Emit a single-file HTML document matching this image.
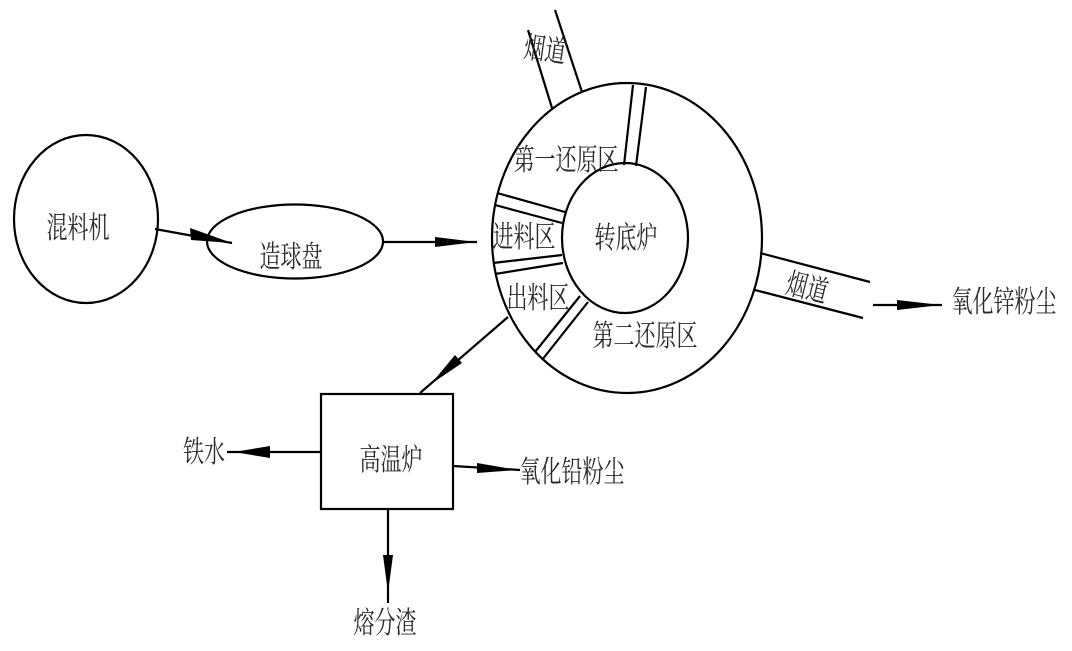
<!DOCTYPE html>
<html>
<head>
<meta charset="utf-8">
<style>
html,body{margin:0;padding:0;background:#fff;}
svg{display:block;}
text{font-family:"Liberation Serif","Noto Serif CJK SC","Noto Sans CJK SC",serif;font-size:30px;fill:#2a2a2a;}
</style>
</head>
<body>
<svg width="1072" height="651" viewBox="0 0 1072 651" xmlns="http://www.w3.org/2000/svg">
<g fill="none" stroke="#000" stroke-width="2.2">
  <ellipse cx="86" cy="219" rx="72" ry="84"/>
  <ellipse cx="295" cy="241.5" rx="88" ry="37"/>
  <ellipse cx="627" cy="238" rx="135" ry="155"/>
  <ellipse cx="625" cy="238" rx="63" ry="75"/>
  <line x1="528" y1="30" x2="552" y2="108"/>
  <line x1="555" y1="10" x2="582" y2="92"/>
  <line x1="624" y1="165" x2="633" y2="85"/>
  <line x1="636" y1="166" x2="646" y2="87"/>
  <line x1="497" y1="193" x2="565" y2="212"/>
  <line x1="495" y1="205" x2="562" y2="223"/>
  <line x1="493" y1="263" x2="562" y2="255"/>
  <line x1="495" y1="274" x2="563" y2="263"/>
  <line x1="535" y1="352" x2="580" y2="296"/>
  <line x1="542" y1="360" x2="588" y2="302"/>
  <line x1="760" y1="253" x2="870" y2="282"/>
  <line x1="755" y1="290" x2="863" y2="318"/>
  <rect x="321" y="394" width="132" height="115"/>
  <line x1="155" y1="229" x2="232" y2="243"/>
  <line x1="383" y1="242" x2="477" y2="242"/>
  <line x1="508" y1="317" x2="420" y2="393"/>
  <line x1="873" y1="305" x2="942" y2="305"/>
  <line x1="321" y1="452" x2="227" y2="452"/>
  <line x1="453" y1="466" x2="520" y2="470"/>
  <line x1="388" y1="509" x2="388" y2="603"/>
</g>
<g fill="#000" stroke="none">
  <polygon points="190,228 191,240 232,243"/>
  <polygon points="435,237 435,247 476,242"/>
  <polygon points="462,363 455,355 431,384"/>
  <polygon points="897,300 897,310 941,305"/>
  <polygon points="270,446 270,458 234,452"/>
  <polygon points="477,463 477,473 518,470"/>
  <polygon points="383,555 393,555 388,593"/>
</g>
<g text-anchor="middle" dominant-baseline="central">
  <text transform="translate(78,228) scale(0.7,1)">混料机</text>
  <text transform="translate(291,257) scale(0.7,1)">造球盘</text>
  <text transform="translate(566,160) scale(0.7,1)">第一还原区</text>
  <text transform="translate(524,237) scale(0.7,1)">进料区</text>
  <text transform="translate(626,238) scale(0.7,1)">转底炉</text>
  <text transform="translate(538,298) scale(0.7,1)">出料区</text>
  <text transform="translate(645,336) scale(0.7,1)">第二还原区</text>
  <text transform="translate(545,50) rotate(8) scale(0.7,1)">烟道</text>
  <text transform="translate(807,288) rotate(14) scale(0.7,1)">烟道</text>
  <text transform="translate(1004,302) scale(0.7,1)">氧化锌粉尘</text>
  <text transform="translate(391,460) scale(0.7,1)">高温炉</text>
  <text transform="translate(204,452) scale(0.7,1)">铁水</text>
  <text transform="translate(572,472) scale(0.7,1)">氧化铅粉尘</text>
  <text transform="translate(385,623) scale(0.7,1)">熔分渣</text>
</g>
</svg>
</body>
</html>
